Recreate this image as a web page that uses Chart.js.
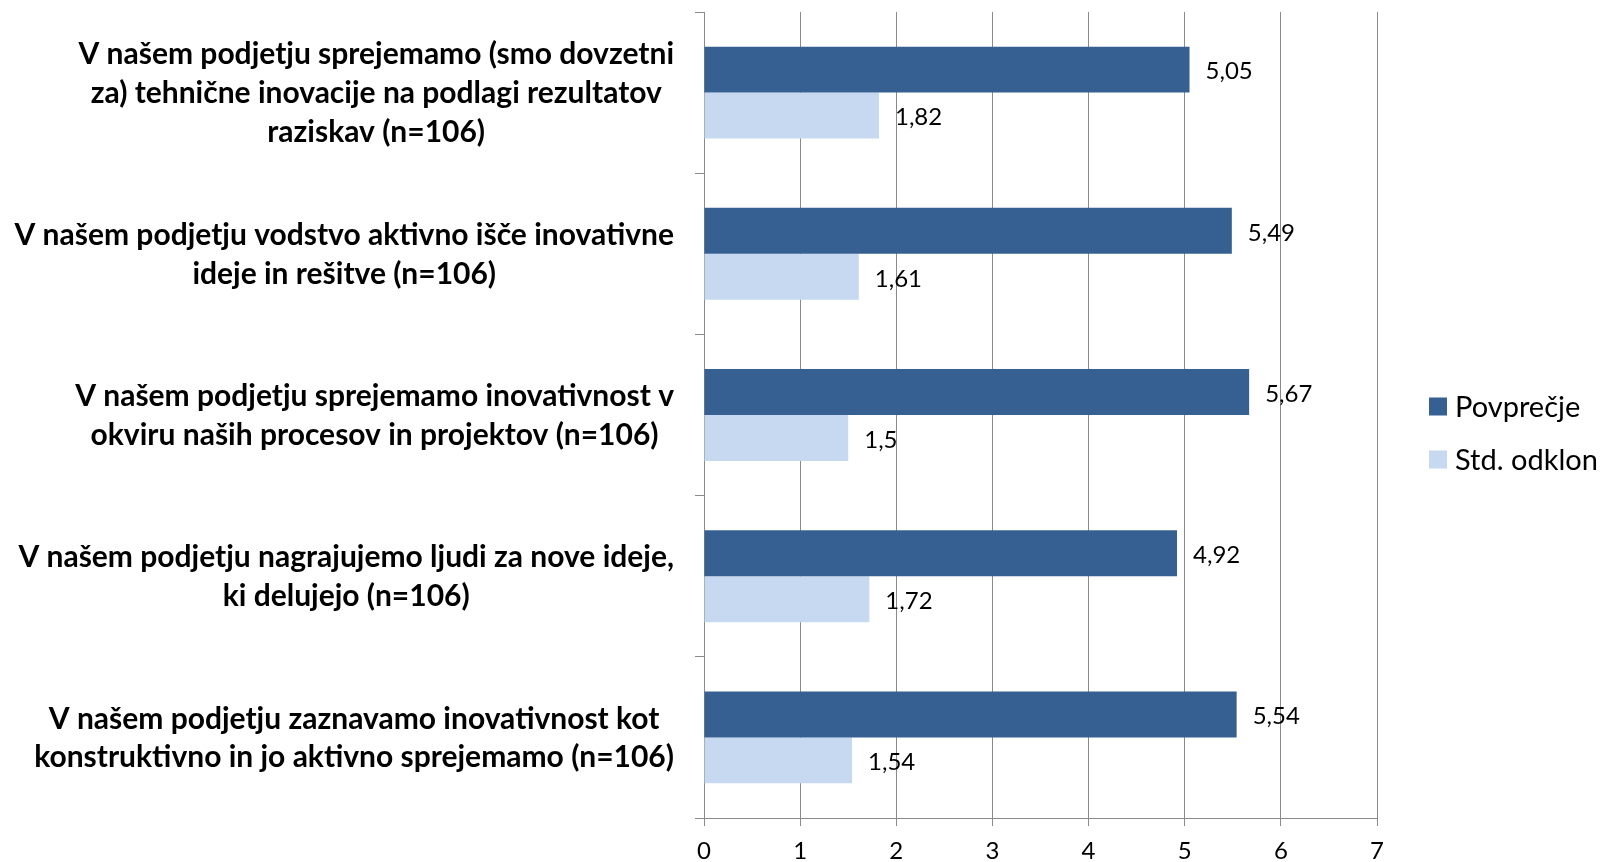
<!DOCTYPE html>
<html>
<head>
<meta charset="utf-8">
<script src="https://cdn.jsdelivr.net/npm/chart.js@4/dist/chart.umd.min.js"></script>
<style>
  html, body { margin: 0; padding: 0; background: #fff; }
  #wrap { width: 1602px; height: 862px; position: relative; }
</style>
</head>
<body>
<div id="wrap"><canvas id="chart"></canvas></div>
<script>
const questions = [
    ['V našem podjetju sprejemamo (smo dovzetni', 'za) tehnične inovacije na podlagi rezultatov', 'raziskav (n=106)'],
    ['V našem podjetju vodstvo aktivno išče inovativne', 'ideje in rešitve (n=106)'],
    ['V našem podjetju sprejemamo inovativnost v', 'okviru naših procesov in projektov (n=106)'],
    ['V našem podjetju nagrajujemo ljudi za nove ideje,', 'ki delujejo (n=106)'],
    ['V našem podjetju zaznavamo inovativnost kot', 'konstruktivno in jo aktivno sprejemamo (n=106)']
];
const meanValues = [5.05, 5.49, 5.67, 4.92, 5.54];
const stdValues = [1.82, 1.61, 1.5, 1.72, 1.54];
const seriesNames = ['Povprečje', 'Std. odklon'];

const darkBlue = '#376092';
const lightBlue = '#c6d9f1';
const gridColor = '#8a8a8a';
const fontFamily = 'Lato, "Open Sans", sans-serif';

// category labels: block right aligned next to the axis, lines centred in the block
const categoryLabelPlugin = {
    id: 'categoryLabelPlugin',
    afterDraw(chart) {
        const { ctx, scales: { y } } = chart;
        const lineHeight = 38.8;
        const rightEdge = chart.chartArea.left - 30;
        ctx.save();
        ctx.font = 'bold 30px ' + fontFamily;
        ctx.fillStyle = '#000';
        ctx.textAlign = 'center';
        ctx.textBaseline = 'middle';
        questions.forEach((lines, i) => {
            const yPos = y.getPixelForTick(i);
            const blockWidth = Math.max(...lines.map(l => ctx.measureText(l).width));
            const cx = rightEdge - blockWidth / 2;
            const top = yPos - (lines.length - 1) * lineHeight / 2;
            lines.forEach((line, j) => ctx.fillText(line, cx, top + j * lineHeight + 1));
        });
        ctx.restore();
    }
};

const valueLabelPlugin = {
    id: 'valueLabelPlugin',
    afterDatasetsDraw(chart) {
        const { ctx } = chart;
        ctx.save();
        ctx.font = '24px ' + fontFamily;
        ctx.fillStyle = '#000';
        ctx.textAlign = 'left';
        ctx.textBaseline = 'middle';
        chart.data.datasets.forEach((ds, di) => {
            chart.getDatasetMeta(di).data.forEach((bar, i) => {
                const txt = String(ds.data[i]).replace('.', ',');
                ctx.fillText(txt, bar.x + 16, bar.y + 2);
            });
        });
        ctx.restore();
    }
};

// legend on the right, like the Excel one (square + label)
const sideLegendPlugin = {
    id: 'sideLegendPlugin',
    afterDraw(chart) {
        const { ctx } = chart;
        const boxX = chart.chartArea.right + 52;
        const midY = chart.height / 2 + 2;
        const rowGap = 53;
        ctx.save();
        ctx.font = '29px ' + fontFamily;
        ctx.textAlign = 'left';
        ctx.textBaseline = 'middle';
        chart.data.datasets.forEach((ds, i) => {
            const yPos = midY + (i - 0.5) * rowGap;
            ctx.fillStyle = ds.backgroundColor;
            ctx.fillRect(boxX, yPos - 9, 18, 18);
            ctx.fillStyle = '#000';
            ctx.fillText(ds.label, boxX + 26, yPos + 1);
        });
        ctx.restore();
    }
};

new Chart(document.getElementById('chart'), {
    type: 'bar',
    data: {
        labels: questions.map(q => q.join(' ')),
        datasets: [
            { label: seriesNames[0], data: meanValues, backgroundColor: darkBlue },
            { label: seriesNames[1], data: stdValues, backgroundColor: lightBlue }
        ]
    },
    options: {
        indexAxis: 'y',
        responsive: true, maintainAspectRatio: false,
        animation: false,
        categoryPercentage: 0.57,
        barPercentage: 1,
        layout: { padding: { left: 695, top: 12, bottom: 0, right: 225 } },
        scales: {
            x: {
                min: 0, max: 7,
                ticks: { stepSize: 1, color: '#000', font: { size: 24, family: fontFamily, lineHeight: 1 }, padding: 13 },
                grid: { color: gridColor, tickLength: 8 },
                border: { color: gridColor },
                afterFit(scale) { scale.height = 44; }
            },
            y: {
                ticks: { display: false },
                grid: { drawOnChartArea: false, color: gridColor, tickLength: 9, offset: true },
                border: { color: gridColor }
            }
        },
        plugins: {
            legend: { display: false },
            tooltip: { enabled: false }
        }
    },
    plugins: [categoryLabelPlugin, valueLabelPlugin, sideLegendPlugin]
});
</script>
</body>
</html>
